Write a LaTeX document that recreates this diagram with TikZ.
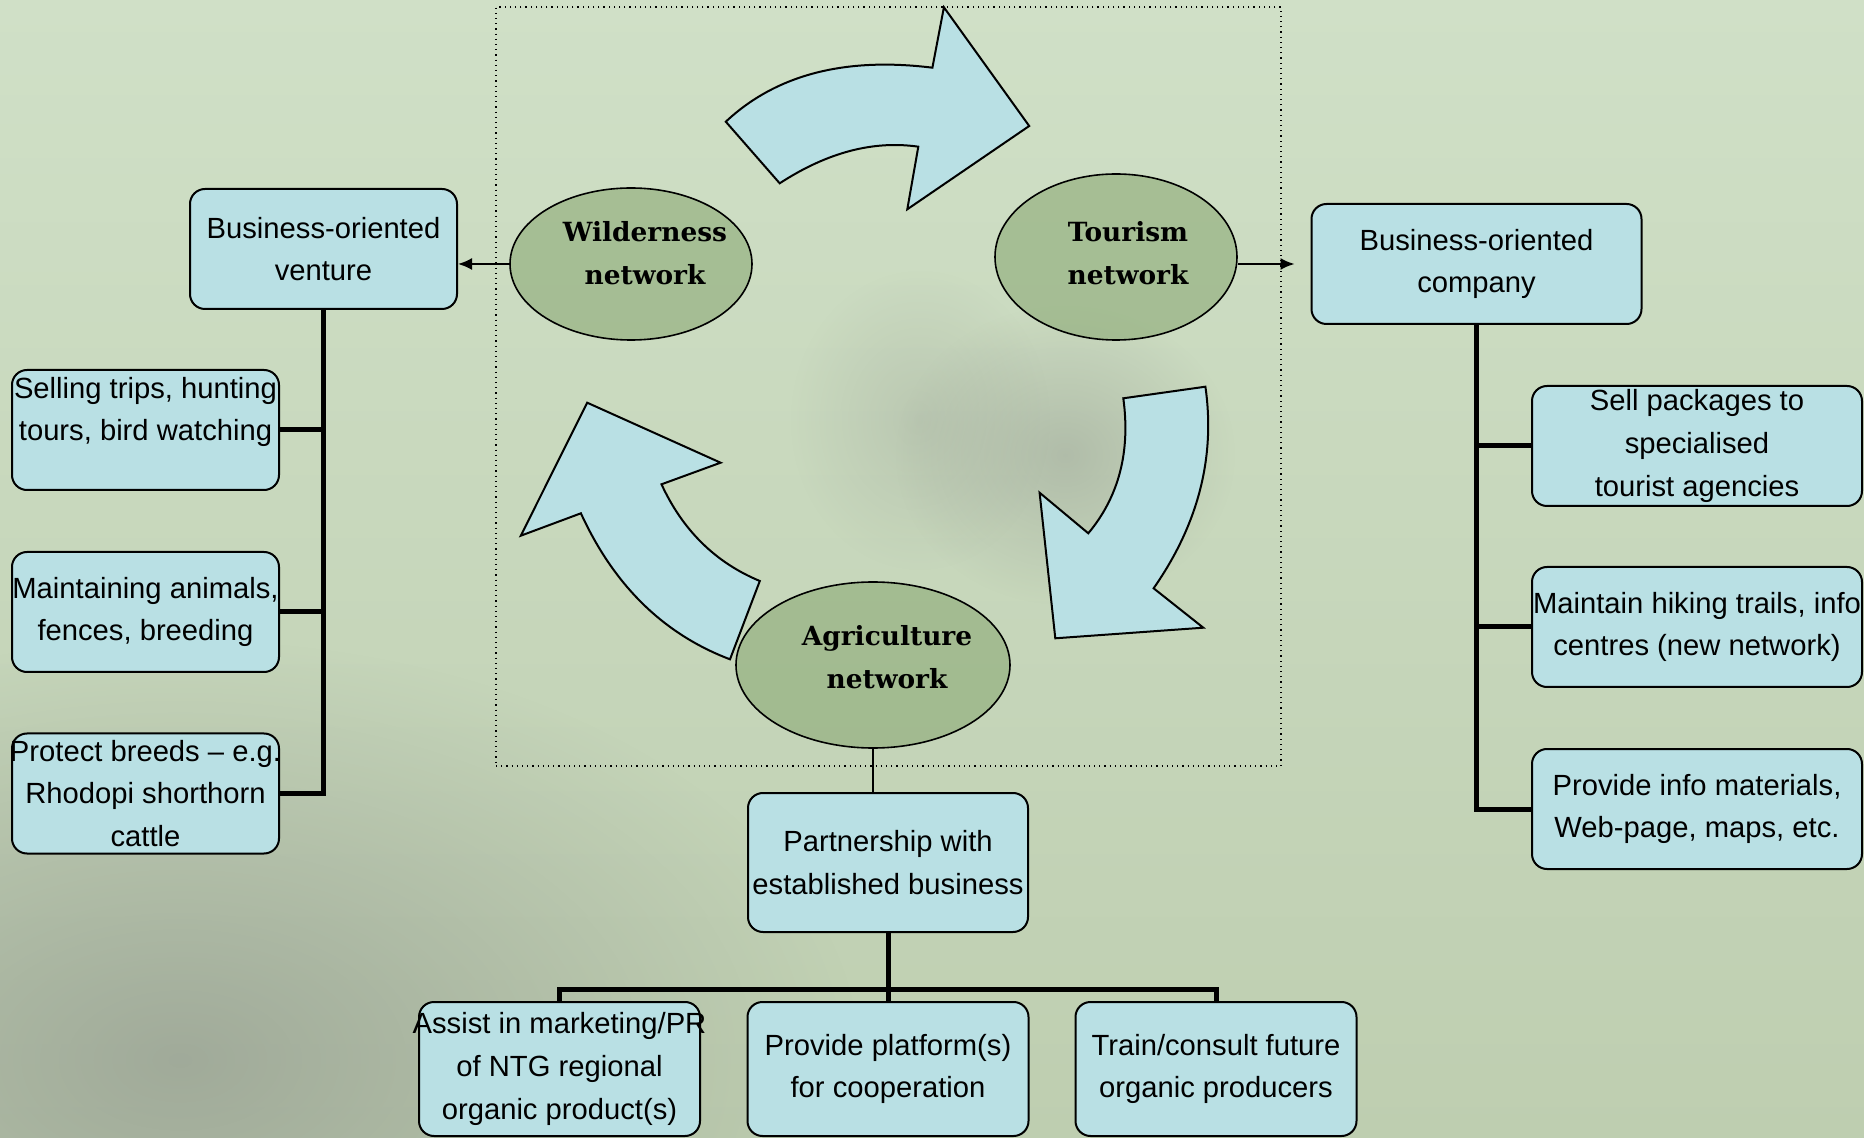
\documentclass[tikz,border=0pt]{standalone}
\usepackage{fontspec}
\setmainfont{Liberation Sans}
\newfontfamily\netfont{DejaVu Serif}
\usetikzlibrary{arrows.meta,shapes.geometric,calc,fadings}
\definecolor{bgtop}{RGB}{208,224,199}
\definecolor{bgbot}{RGB}{190,206,176}
\definecolor{shadegray}{RGB}{140,146,138}
\definecolor{boxblue}{RGB}{185,224,228}
\definecolor{ellgreen}{RGB}{140,170,118}
\tikzfading[name=softblob, inner color=transparent!0, outer color=transparent!100]
\begin{document}
\begin{tikzpicture}[x=0.5pt,y=-0.5pt,
  bx/.style={draw=black, line width=1pt, fill=boxblue, rounded corners=7.5pt, inner sep=0pt, align=center, font=\fontsize{14.6}{21.4}\selectfont},
  btext/.style={inner sep=0pt, align=center, font=\fontsize{14.6}{21.4}\selectfont},
  lbox/.style={bx, minimum width=133.5pt, minimum height=60pt},
  rbox/.style={bx, minimum width=165pt, minimum height=60pt},
  bbox/.style={bx, minimum width=140.5pt, minimum height=67pt},
  net/.style={ellipse, draw=black, line width=0.8pt, fill=ellgreen, fill opacity=0.6, inner sep=0pt},
  nettext/.style={inner sep=0pt, align=center, font=\netfont\bfseries\fontsize{13.2}{21.3}\selectfont},
  trunk/.style={line width=2.5pt},
  thinline/.style={line width=1pt},
  tip/.style={-{Latex[length=7pt,width=6pt]}},
  barrow/.style={draw=black, line width=1pt, fill=boxblue, line join=miter},
  haze/.style={fill=shadegray, path fading=softblob}
]
\useasboundingbox (0,0) rectangle (1864,1138);
\shade[top color=bgtop, bottom color=bgbot] (0,0) rectangle (1864,1138);
% soft darker areas of the photo background
\fill[haze, fill opacity=0.6] (180,1060) ellipse [x radius=680, y radius=420];
\fill[haze, fill opacity=0.4] (1065,455) ellipse [x radius=170, y radius=150];
\fill[haze, fill opacity=0.25] (920,420) ellipse [x radius=130, y radius=150];

% dotted frame
\node[draw, dotted, line width=0.6pt, minimum width=392.5pt, minimum height=379.5pt, inner sep=0pt] (frame) at (888.5,386.5) {};

% block arrows
\draw[barrow] (725.8,121.7) -- (779.7,183.3) .. controls (827.2,152.4) and (873.4,140.2) .. (918.3,146.7) -- (907.3,209.3) -- (1029.2,126) -- (943.9,7.3) -- (932.4,67.7) .. controls (844.7,56.8) and (775.9,74.8) .. (725.8,121.7) -- cycle;
\draw[barrow] (1123.3,398.3) -- (1205.4,386.7) .. controls (1215.5,457.2) and (1198.2,524.4) .. (1153.6,588.3) -- (1203.3,627.7) -- (1055.3,638.3) -- (1039.6,492.7) -- (1088.3,533.3) .. controls (1118.9,496.6) and (1130.6,451.6) .. (1123.3,398.3) -- cycle;
\draw[barrow] (759.8,581) -- (730,659.3) .. controls (663.7,634.2) and (614.0,585.6) .. (580.9,513.3) -- (520.8,535.7) -- (587.2,402.7) -- (720.6,462.7) -- (661.5,484.3) .. controls (682.7,530.3) and (715.5,562.6) .. (759.8,581) -- cycle;

% network ellipses
\node[net, minimum width=121pt, minimum height=76pt] (wild) at (631,264) {};
\node[net, minimum width=121pt, minimum height=83pt] (tour) at (1116,257) {};
\node[net, minimum width=137pt, minimum height=83pt] (agri) at (873,665) {};
\node[nettext] (wildt) at (645,253) {Wilderness\\network};
\node[nettext] (tourt) at (1128,253) {Tourism\\network};
\node[nettext] (agrit) at (887,657) {Agriculture\\network};

% left column
\node[lbox] (venture) at (323.5,249) {Business-oriented\\venture};
\node[lbox] (sell) at (145.5,430) {};
\node[btext] (sellt) at (145.5,412) {Selling trips, hunting\\tours, bird watching};
\node[lbox] (maint) at (145.5,612) {Maintaining animals,\\fences, breeding};
\node[lbox] (prot) at (145.5,793.5) {\makebox[133.5pt]{Protect breeds – e.g.}\\Rhodopi shorthorn\\cattle};

% right column
\node[rbox] (comp) at (1476.5,264) {Business-oriented\\company};
\node[rbox] (pack) at (1697,446) {Sell packages to\\specialised\\tourist agencies};
\node[rbox] (hike) at (1697,627) {Maintain hiking trails, info\\centres (new network)};
\node[rbox] (info) at (1697,809) {Provide info materials,\\Web-page, maps, etc.};

% bottom
\node[bx, minimum width=140pt, minimum height=69.5pt] (part) at (888,862.5) {Partnership with\\established business};
\node[bbox] (mark) at (559.5,1069) {\makebox[140.5pt]{Assist in marketing/PR}\\of NTG regional\\organic product(s)};
\node[bbox] (plat) at (888,1069) {Provide platform(s)\\for cooperation};
\node[bbox] (train) at (1216,1069) {Train/consult future\\organic producers};

% connectors
\draw[thinline, tip] (wild.west) -- (wild.west -| venture.east);
\draw[thinline, tip, shorten >=8pt] (tour.east |- comp.west) -- (comp.west);
\draw[thinline] (agri.south) -- (agri.south |- part.north);

\draw[trunk] (venture.south) -- (venture.south |- prot.east) -- (prot.east);
\draw[trunk] (sell.east) -- (sell.east -| venture.south);
\draw[trunk] (maint.east) -- (maint.east -| venture.south);

\draw[trunk] (comp.south) -- (comp.south |- info.west) -- (info.west);
\draw[trunk] (pack.west) -- (pack.west -| comp.south);
\draw[trunk] (hike.west) -- (hike.west -| comp.south);

\coordinate (bj) at (888,989);
\draw[trunk] (part.south) -- (plat.north);
\draw[trunk] (mark.north) -- (mark.north |- bj) -- (train.north |- bj) -- (train.north);
\end{tikzpicture}
\end{document}
